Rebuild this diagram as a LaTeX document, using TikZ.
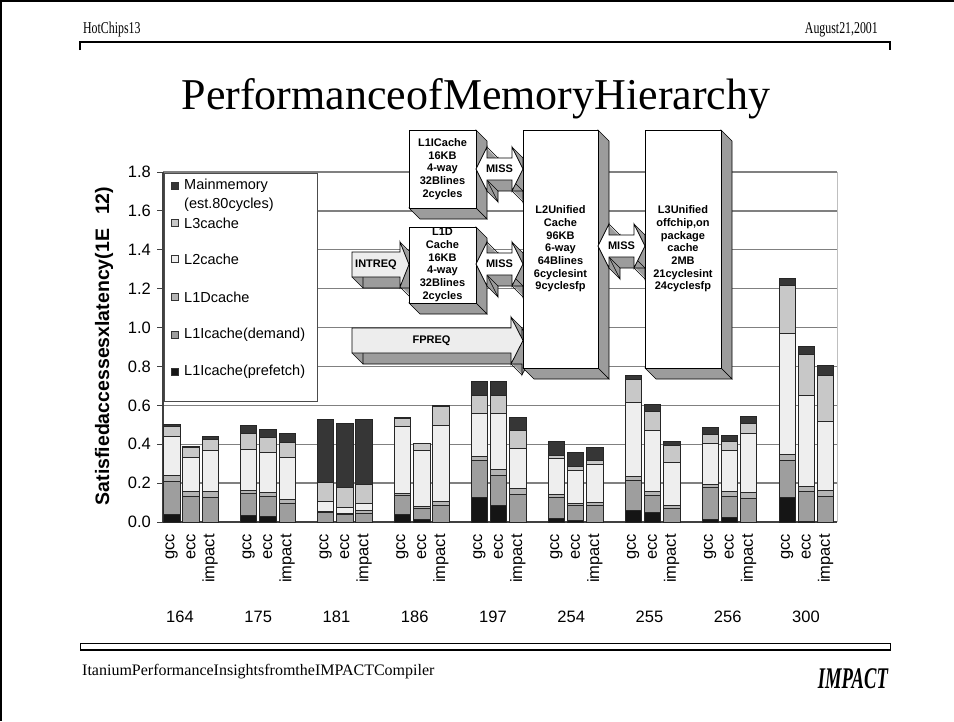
\documentclass[tikz,border=0pt]{standalone}
\usepackage{fontspec}
\setmainfont{Liberation Serif}
\newfontfamily\arial{Liberation Sans}

\definecolor{cpre}{HTML}{151515}
\definecolor{cdem}{HTML}{9E9E9E}
\definecolor{cloned}{HTML}{B4B4B4}
\definecolor{cltwo}{HTML}{EEEEEE}
\definecolor{clthree}{HTML}{C8C8C8}
\definecolor{cmain}{HTML}{363636}
\definecolor{gridc}{HTML}{808080}
\definecolor{extc}{HTML}{9C9C9C}
\definecolor{reqc}{HTML}{EDEDED}

% outline of a left-right double arrow: left tip, right tip, centre line
\newcommand\dblpath[3]{(#1,#3) -- ({#1+11},{#3-22}) -- ({#1+11},{#3-11}) -- ({#2-11},{#3-11}) -- ({#2-11},{#3-22}) -- (#2,#3) -- ({#2-11},{#3+22}) -- ({#2-11},{#3+11}) -- ({#1+11},{#3+11}) -- ({#1+11},{#3+22}) -- cycle}
% outline of a right arrow: tail, head base, tip, centre, shaft half height, head half height
\newcommand\rpath[6]{(#1,{#4-#5}) -- (#2,{#4-#5}) -- (#2,{#4-#6}) -- (#3,#4) -- (#2,{#4+#6}) -- (#2,{#4+#5}) -- (#1,{#4+#5}) -- cycle}

% extruded double arrow with a MISS label
\newcommand\missarrow[4]{%
  \foreach \k in {1,...,11}{\fill[extf,shift={(\k,\k)}] \dblpath{#2}{#3}{#4};}
  \draw[rim,shift={(11,11)}] \dblpath{#2}{#3}{#4};
  \draw[rim] (#2,#4) -- ++(11,11) ({#2+11},{#4+22}) -- ++(11,11) ({#3-11},{#4+22}) -- ++(11,11)
    (#3,#4) -- ++(11,11) ({#3-11},{#4-22}) -- ++(11,11) ({#2+11},{#4-22}) -- ++(11,11)
    ({#2+11},{#4+11}) -- ++(11,11) ({#3-11},{#4+11}) -- ++(11,11);
  \filldraw[face] \dblpath{#2}{#3}{#4};
  \node[lbl] (#1) at ({(#2+#3)/2},#4) {MISS};
}
% extruded request arrow
\newcommand\reqarrow[8]{%
  \foreach \k in {1,...,11}{\fill[extf,shift={(\k,\k)}] \rpath{#2}{#3}{#4}{#5}{#6}{#7};}
  \draw[rim,shift={(11,11)}] \rpath{#2}{#3}{#4}{#5}{#6}{#7};
  \draw[rim] (#2,{#5+#6}) -- ++(11,11) (#3,{#5+#7}) -- ++(11,11) (#4,#5) -- ++(11,11)
    (#3,{#5-#7}) -- ++(11,11);
  \filldraw[face,fill=reqc] \rpath{#2}{#3}{#4}{#5}{#6}{#7};
  \node[lbl] (#1) at ({(#2+#3)/2},#5) {#8};
}
% extruded cache block: name, x1, y1, x2, y2, text
\newcommand\cachebox[6]{%
  \filldraw[extf,rim] (#4,#3) -- ++(11,11) -- ({#4+11},{#5+11}) -- (#4,#5) -- cycle;
  \filldraw[extf,rim] (#2,#5) -- ++(11,11) -- ({#4+11},{#5+11}) -- (#4,#5) -- cycle;
  \filldraw[face] (#2,#3) rectangle (#4,#5);
  \node[lbl] (#1) at ({(#2+#4)/2},{(#3+#5)/2}) {#6};
}

\begin{document}
\begin{tikzpicture}[x=1pt,y=-1pt,
  gridln/.style={draw=gridc,line width=1.3pt},
  barseg/.style={draw=black!85,line width=0.7pt},
  face/.style={fill=white,draw=black,line width=0.8pt},
  extf/.style={fill=extc},
  rim/.style={draw=black,line width=0.6pt},
  lbl/.style={font=\arial\bfseries\fontsize{11}{12.7}\selectfont,align=center,inner sep=0pt},
  ticklbl/.style={font=\arial\fontsize{16.5}{18}\selectfont,inner sep=0pt},
  leg/.style={font=\arial\fontsize{14.5}{17}\selectfont,anchor=west,inner sep=0pt},
  swatch/.style={draw=black!80,line width=0.6pt}]
\useasboundingbox (0,0) rectangle (954,721);

% page frame, header and footer
\draw[line width=2.5pt] (0,1.2) -- (954,1.2);
\draw[line width=2.5pt] (1.2,0) -- (1.2,721);
\node[anchor=base west,font=\fontsize{16.5}{18}\selectfont,xscale=0.72,inner sep=0pt] (hdrl) at (83,33) {HotChips13};
\node[anchor=base east,font=\fontsize{16.5}{18}\selectfont,xscale=0.72,inner sep=0pt] (hdrr) at (878,33) {August21,2001};
\draw[line width=1.3pt] (80,50) -- (80,42) -- (890,42) -- (890,50);
\node[anchor=base,font=\fontsize{44}{50}\selectfont,inner sep=0pt] (title) at (476,109) {PerformanceofMemoryHierarchy};
\draw[line width=0.8pt] (80,643) rectangle (890,650);
\draw[line width=1.6pt] (80,650) -- (890,650);
\node[anchor=base west,font=\fontsize{16}{18}\selectfont,inner sep=0pt] (foot) at (82,675) {ItaniumPerformanceInsightsfromtheIMPACTCompiler};
\node[anchor=base east,font=\bfseries\itshape\fontsize{30}{32}\selectfont,xscale=0.62,inner sep=0pt] (brand) at (888,688) {IMPACT};

% plot area: grid, axes, tick labels
\foreach \k in {1,...,9}{\draw[gridln] (163,{522-38.889*\k}) -- (837,{522-38.889*\k});}
\draw[draw=black!25,line width=1pt] (837,172) -- (837,522);
\draw[draw=black!75,line width=1.3pt] (163,522) -- (837,522);
\draw[draw=black!75,line width=1.3pt] (163,172) -- (163,522);
\foreach \k/\t in {0/0.0,1/0.2,2/0.4,3/0.6,4/0.8,5/1.0,6/1.2,7/1.4,8/1.6,9/1.8}{
  \draw[draw=black!75,line width=1pt] (157,{522-38.889*\k}) -- (163,{522-38.889*\k});
  \node[ticklbl,anchor=east] (yt\k) at (151,{522-38.889*\k}) {\t};
}
\node[rotate=90,font=\arial\bfseries\fontsize{19.5}{22}\selectfont,inner sep=0pt] (ytitle) at (104,346) {Satisfiedaccessesxlatency(1E\hspace{14pt}12)};

% stacked bars: cumulative tops of prefetch, demand, L1D, L2, L3, main memory
\foreach \i/\a/\b/\c/\d/\e/\f in {
  0/0.04/0.207/0.238/0.442/0.49/0.502, 1/0/0.134/0.156/0.333/0.382/0.391, 2/0/0.127/0.158/0.37/0.427/0.44,
  4/0.036/0.145/0.165/0.372/0.455/0.498, 5/0.027/0.134/0.151/0.357/0.436/0.477, 6/0/0.096/0.115/0.33/0.409/0.456,
  8/0/0.048/0.055/0.108/0.204/0.53, 9/0/0.04/0.047/0.076/0.178/0.508, 10/0/0.046/0.06/0.096/0.194/0.53,
  12/0.04/0.139/0.148/0.49/0.535/0.537, 13/0.014/0.07/0.082/0.37/0.405/0.407, 14/0/0.086/0.104/0.499/0.597/0.598,
  16/0.127/0.319/0.34/0.559/0.653/0.722, 17/0.086/0.238/0.271/0.559/0.653/0.722, 18/0/0.142/0.173/0.379/0.473/0.538,
  20/0.019/0.127/0.142/0.328/0.345/0.413, 21/0.01/0.084/0.096/0.267/0.285/0.357, 22/0/0.086/0.099/0.297/0.319/0.384,
  24/0.062/0.216/0.233/0.614/0.735/0.755, 25/0.05/0.139/0.159/0.473/0.571/0.605, 26/0/0.069/0.084/0.307/0.393/0.417,
  28/0.015/0.176/0.195/0.405/0.451/0.487, 29/0.024/0.134/0.156/0.367/0.417/0.448, 30/0/0.122/0.151/0.456/0.508/0.545,
  32/0.125/0.319/0.348/0.971/1.216/1.254, 33/0.005/0.156/0.182/0.65/0.864/0.902, 34/0/0.134/0.161/0.52/0.756/0.804}{
  \pgfmathsetmacro\xl{163.5+19.23*\i}
  \pgfmathsetmacro\xr{\xl+16.4}
  \filldraw[barseg,fill=cpre] (\xl,522) rectangle (\xr,{522-194.44*\a});
  \filldraw[barseg,fill=cdem] (\xl,{522-194.44*\a}) rectangle (\xr,{522-194.44*\b});
  \filldraw[barseg,fill=cloned] (\xl,{522-194.44*\b}) rectangle (\xr,{522-194.44*\c});
  \filldraw[barseg,fill=cltwo] (\xl,{522-194.44*\c}) rectangle (\xr,{522-194.44*\d});
  \filldraw[barseg,fill=clthree] (\xl,{522-194.44*\d}) rectangle (\xr,{522-194.44*\e});
  \filldraw[barseg,fill=cmain] (\xl,{522-194.44*\e}) rectangle (\xr,{522-194.44*\f});
}

% category labels
\foreach \g/\n in {0/164,1/175,2/181,3/186,4/197,5/254,6/255,7/256,8/300}{
  \foreach \b/\t in {0/gcc,1/ecc,2/impact}{
    \pgfmathsetmacro\xc{163.5+19.23*(4*\g+\b)+8.2}
    \node[ticklbl,rotate=90,anchor=east] (cat\g\b) at (\xc,534) {\t};
  }
  \node[ticklbl] (grp\g) at ({180+78.25*\g},617) {\n};
}

% legend
\filldraw[fill=white,draw=black!70,line width=0.8pt] (164.5,173) rectangle (317,401);
\foreach \nm/\col/\yy/\txt in {mm/cmain/186/Mainmemory,lthree/clthree/223/L3cache,ltwo/cltwo/259/L2cache,
    lone/cloned/297/L1Dcache,dem/cdem/335/L1Icache(demand),pre/cpre/372/L1Icache(prefetch)}{
  \filldraw[swatch,fill=\col] (171,{\yy-3.5}) rectangle (178,{\yy+3.5});
  \node[leg] (leg\nm) at (184,\yy) {\txt};
}
\node[leg] (legest) at (184,205) {(est.80cycles)};

% memory hierarchy blocks and request paths
\reqarrow{intreq}{352}{400}{409}{264.5}{12.5}{22.5}{INTREQ}
\cachebox{lonedbox}{409}{227}{476}{303}{L1D\\Cache\\16KB\\4-way\\32Blines\\2cycles}
\cachebox{loneibox}{409}{130}{476}{208}{L1ICache\\16KB\\4-way\\32Blines\\2cycles}
\missarrow{missi}{476}{523}{169}
\missarrow{missd}{476}{523}{264}
\reqarrow{fpreq}{352}{511}{523}{340.5}{12.5}{23.5}{FPREQ}
\cachebox{ltwobox}{523}{130}{598}{368}{L2Unified\\Cache\\96KB\\6-way\\64Blines\\6cyclesint\\9cyclesfp}
\missarrow{misstwo}{598}{645}{246}
\cachebox{lthreebox}{645}{130}{721}{368}{L3Unified\\offchip,on\\package\\cache\\2MB\\21cyclesint\\24cyclesfp}
\end{tikzpicture}
\end{document}
